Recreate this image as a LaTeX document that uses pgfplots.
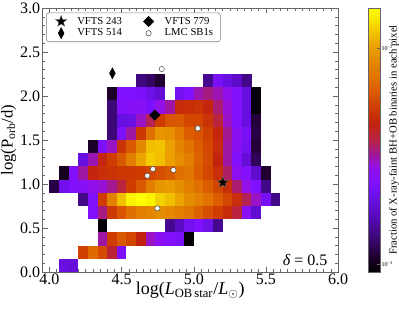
\documentclass[border=0pt]{standalone}
\usepackage{pgfplots}
\pgfplotsset{compat=1.18}
\usepackage{fontspec}
\setmainfont{Liberation Serif}

\pgfdeclareplotmark{cell}{\pgfpathrectangle{\pgfqpoint{-3.63pt}{-4.97pt}}{\pgfqpoint{7.26pt}{9.94pt}}\pgfusepathqfill}
\pgfdeclareplotmark{fstar}{%
 \pgfpathmoveto{\pgfpointpolar{90}{\pgfplotmarksize}}%
 \pgfpathlineto{\pgfpointpolar{126}{0.42\pgfplotmarksize}}%
 \pgfpathlineto{\pgfpointpolar{162}{\pgfplotmarksize}}%
 \pgfpathlineto{\pgfpointpolar{198}{0.42\pgfplotmarksize}}%
 \pgfpathlineto{\pgfpointpolar{234}{\pgfplotmarksize}}%
 \pgfpathlineto{\pgfpointpolar{270}{0.42\pgfplotmarksize}}%
 \pgfpathlineto{\pgfpointpolar{306}{\pgfplotmarksize}}%
 \pgfpathlineto{\pgfpointpolar{342}{0.42\pgfplotmarksize}}%
 \pgfpathlineto{\pgfpointpolar{18}{\pgfplotmarksize}}%
 \pgfpathlineto{\pgfpointpolar{54}{0.42\pgfplotmarksize}}%
 \pgfpathclose\pgfusepathqfillstroke}
\newcommand{\tenpow}[1]{10\raisebox{1.6pt}{\fontsize{3.2}{4}\selectfont #1}}

\begin{document}
\begin{tikzpicture}
\useasboundingbox (-31.7pt,-29.25pt) rectangle (267.5pt,204pt);
\begin{axis}[
  at={(0pt,0pt)}, anchor=south west,
  scale only axis, width=221.8pt, height=198pt,
  xmin=3.95, xmax=6.0, ymin=0, ymax=3,
  xtick={4,4.5,5,5.5,6}, ytick={0,0.5,1,1.5,2,2.5,3},
  minor x tick num=9, minor y tick num=4,
  tick align=inside,
  major tick length=4pt, minor tick length=2pt,
  axis line style={black!60},
  every tick/.style={black!60, line width=0.4pt},
  /pgf/number format/assume math mode=true,
  xticklabel style={font=\fontsize{12}{14}\selectfont, inner sep=1pt, /pgf/number format/.cd, fixed, fixed zerofill, precision=1, /tikz/.cd},
  yticklabel style={font=\fontsize{12}{14}\selectfont, inner sep=1.5pt, /pgf/number format/.cd, fixed, fixed zerofill, precision=1, /tikz/.cd},
  xlabel={log(\textit{L}\textsubscript{OB\,star}/\textit{L}\textsubscript{$\odot$})},
  ylabel={log(P\textsubscript{orb}/d)},
  xlabel style={font=\fontsize{13.5}{15}\selectfont, at={(axis description cs:0.5,0)}, anchor=north, yshift=-7.5pt, inner sep=0pt},
  ylabel style={font=\fontsize{12.5}{14}\selectfont, at={(axis description cs:-0.0872,0.5)}, anchor=south, inner sep=0pt},
  point meta min=0, point meta max=1,
  colormap={sunset}{rgb255(0cm)=(0,0,0); rgb255(0.6cm)=(32,0,48); rgb255(1.4cm)=(64,8,128); rgb255(2.2cm)=(90,10,192); rgb255(2.8cm)=(106,16,228); rgb255(3.4cm)=(128,16,255); rgb255(4.0cm)=(148,16,232); rgb255(4.5cm)=(162,24,144); rgb255(5.0cm)=(184,36,72); rgb255(5.6cm)=(194,34,16); rgb255(6.2cm)=(206,60,0); rgb255(6.7cm)=(216,84,0); rgb255(7.3cm)=(224,112,0); rgb255(8.0cm)=(228,136,0); rgb255(8.6cm)=(236,164,0); rgb255(9.1cm)=(242,196,0); rgb255(9.6cm)=(248,232,0); rgb255(10cm)=(255,255,0)},
  colorbar,
  colorbar style={
    at={(parent axis.north east)}, anchor=north west, xshift=14pt,
    scale only axis, width=9.45pt, height=198pt,
    ytick={0.0287,0.8477}, yticklabels={\tenpow{−3},\tenpow{−2}},
    minor ytick={0.275,0.419,0.522,0.601,0.666,0.721,0.768,0.810},
    ytick pos=right, yticklabel pos=right,
    yticklabel style={font=\fontsize{4.5}{5}\selectfont, inner sep=0.5pt},
    tick align=inside, major tick length=3pt, minor tick length=1.5pt,
    ylabel={Fraction of X-ray-faint BH+OB binaries in each pixel},
    every axis y label/.style={at={(axis description cs:1.65,0.5)}, rotate=90, anchor=north, inner sep=0pt, font=\fontsize{8}{9}\selectfont},
    axis line style={black!60},
    every tick/.style={black!60},
  },
  legend columns=2,
  legend cell align=left,
  legend image code/.code={\draw[#1] plot coordinates {(0.28cm,0cm)}; \path (0cm,0cm) (0.61cm,0cm);},
  legend style={at={(axis description cs:0,1)}, anchor=north west, xshift=2.8pt, yshift=-3.5pt,
    draw=black!50, rounded corners=2pt, font=\fontsize{8}{9}\selectfont,
    nodes={inner xsep=2.5pt, inner ysep=1pt},
    /tikz/every even column/.append style={column sep=9.25pt}},
]
\addplot[scatter, only marks, mark=cell, point meta=explicit, forget plot,
  scatter/use mapped color={draw=none, fill=mapped color}]
  table[row sep=\\, x expr={4.03333+0.0666667*\thisrow{c}}, y expr={0.075+0.15*\thisrow{j}}, meta=f] {
c j f\\
1 0 0.27\\ 2 0 0.26\\
3 1 0.63\\ 4 1 0.72\\ 5 1 0.65\\ 6 1 0.52\\ 7 1 0.33\\
5 2 0.44\\ 6 2 0.62\\ 7 2 0.68\\ 8 2 0.64\\ 9 2 0.56\\ 10 2 0.42\\ 11 2 0.37\\ 12 2 0.35\\ 13 2 0.32\\ 14 2 0.01\\
5 3 0.01\\ 12 3 0.16\\ 13 3 0.22\\ 14 3 0.31\\ 15 3 0.34\\ 16 3 0.29\\ 17 3 0.16\\
4 4 0.35\\ 5 4 0.46\\ 6 4 0.61\\ 7 4 0.67\\ 8 4 0.73\\ 9 4 0.77\\ 10 4 0.79\\ 11 4 0.81\\ 12 4 0.80\\ 13 4 0.77\\ 14 4 0.75\\ 15 4 0.70\\ 16 4 0.66\\ 17 4 0.62\\ 18 4 0.58\\ 19 4 0.51\\ 20 4 0.36\\ 21 4 0.25\\
3 5 0.15\\ 4 5 0.35\\ 5 5 0.62\\ 6 5 0.78\\ 7 5 0.90\\ 8 5 0.98\\ 9 5 1.00\\ 10 5 0.98\\ 11 5 0.93\\ 12 5 0.90\\ 13 5 0.86\\ 14 5 0.81\\ 15 5 0.78\\ 16 5 0.74\\ 17 5 0.69\\ 18 5 0.64\\ 19 5 0.59\\ 20 5 0.49\\ 21 5 0.42\\ 22 5 0.32\\ 23 5 0.15\\
0 6 0.08\\ 1 6 0.30\\ 2 6 0.35\\ 3 6 0.36\\ 4 6 0.39\\ 5 6 0.41\\ 6 6 0.45\\ 7 6 0.51\\ 8 6 0.62\\ 9 6 0.68\\ 10 6 0.77\\ 11 6 0.83\\ 12 6 0.84\\ 13 6 0.81\\ 14 6 0.77\\ 15 6 0.73\\ 16 6 0.69\\ 17 6 0.64\\ 18 6 0.59\\ 19 6 0.47\\ 20 6 0.40\\ 21 6 0.34\\ 22 6 0.15\\
1 7 0.04\\ 2 7 0.35\\ 3 7 0.44\\ 4 7 0.57\\ 5 7 0.59\\ 6 7 0.60\\ 7 7 0.61\\ 8 7 0.61\\ 9 7 0.62\\ 10 7 0.64\\ 11 7 0.66\\ 12 7 0.68\\ 13 7 0.73\\ 14 7 0.75\\ 15 7 0.69\\ 16 7 0.64\\ 17 7 0.59\\ 18 7 0.48\\ 19 7 0.38\\ 20 7 0.35\\ 21 7 0.24\\ 22 7 0.06\\
3 8 0.27\\ 4 8 0.43\\ 5 8 0.57\\ 6 8 0.62\\ 7 8 0.68\\ 8 8 0.77\\ 9 8 0.86\\ 10 8 0.92\\ 11 8 0.90\\ 12 8 0.85\\ 13 8 0.81\\ 14 8 0.77\\ 15 8 0.70\\ 16 8 0.65\\ 17 8 0.56\\ 18 8 0.44\\ 19 8 0.35\\ 20 8 0.26\\ 21 8 0.10\\
4 9 0.05\\ 5 9 0.33\\ 6 9 0.42\\ 7 9 0.60\\ 8 9 0.68\\ 9 9 0.80\\ 10 9 0.90\\ 11 9 0.91\\ 12 9 0.85\\ 13 9 0.79\\ 14 9 0.74\\ 15 9 0.69\\ 16 9 0.64\\ 17 9 0.58\\ 18 9 0.44\\ 19 9 0.37\\ 20 9 0.31\\ 21 9 0.07\\
6 10 0.13\\ 7 10 0.33\\ 8 10 0.44\\ 9 10 0.61\\ 10 10 0.73\\ 11 10 0.83\\ 12 10 0.82\\ 13 10 0.76\\ 14 10 0.69\\ 15 10 0.67\\ 16 10 0.63\\ 17 10 0.57\\ 18 10 0.45\\ 19 10 0.37\\ 20 10 0.32\\ 21 10 0.08\\
6 11 0.13\\ 7 11 0.27\\ 8 11 0.28\\ 9 11 0.42\\ 10 11 0.49\\ 11 11 0.62\\ 12 11 0.67\\ 13 11 0.68\\ 14 11 0.64\\ 15 11 0.64\\ 16 11 0.60\\ 17 11 0.51\\ 18 11 0.42\\ 19 11 0.35\\ 20 11 0.27\\ 21 11 0.07\\
6 12 0.13\\ 7 12 0.35\\ 8 12 0.36\\ 9 12 0.36\\ 10 12 0.33\\ 11 12 0.40\\ 12 12 0.44\\ 13 12 0.58\\ 14 12 0.59\\ 15 12 0.60\\ 16 12 0.57\\ 17 12 0.47\\ 18 12 0.41\\ 19 12 0.35\\ 20 12 0.27\\ 21 12 0.01\\
6 13 0.05\\ 7 13 0.34\\ 8 13 0.34\\ 9 13 0.33\\ 10 13 0.29\\ 11 13 0.26\\ 13 13 0.31\\ 14 13 0.34\\ 15 13 0.43\\ 16 13 0.46\\ 17 13 0.43\\ 18 13 0.39\\ 19 13 0.35\\ 20 13 0.27\\ 21 13 0.01\\
9 14 0.14\\ 10 14 0.11\\ 11 14 0.06\\ 16 14 0.16\\ 17 14 0.32\\ 18 14 0.27\\ 19 14 0.23\\ 20 14 0.15\\
};
\addplot[only marks, mark=fstar, mark size=4.4pt, mark options={fill=black, draw=black!60, line width=0.3pt}] coordinates {(5.201,1.017)};
\addlegendentry{VFTS 243}
\addplot[only marks, mark=square*, mark size=2.75pt, mark options={rotate=45, fill=black, draw=black}] coordinates {(4.730,1.784)};
\addlegendentry{VFTS 779}
\addplot[only marks, mark=diamond*, mark size=4.1pt, mark options={xscale=0.7, fill=black, draw=black}] coordinates {(4.436,2.258)};
\addlegendentry{VFTS 514}
\addplot[only marks, mark=*, mark size=2pt, mark options={fill=white, draw=black!70, line width=0.4pt}] coordinates {(4.778,2.307) (5.028,1.633) (4.717,1.170) (4.859,1.159) (4.678,1.094) (4.748,0.724)};
\addlegendentry{LMC SB1s}
\node[anchor=base east, font=\fontsize{12}{14}\selectfont] at (rel axis cs:0.98,0.0265) {\textit{δ} = 0.5};
\end{axis}
\end{tikzpicture}
\end{document}
